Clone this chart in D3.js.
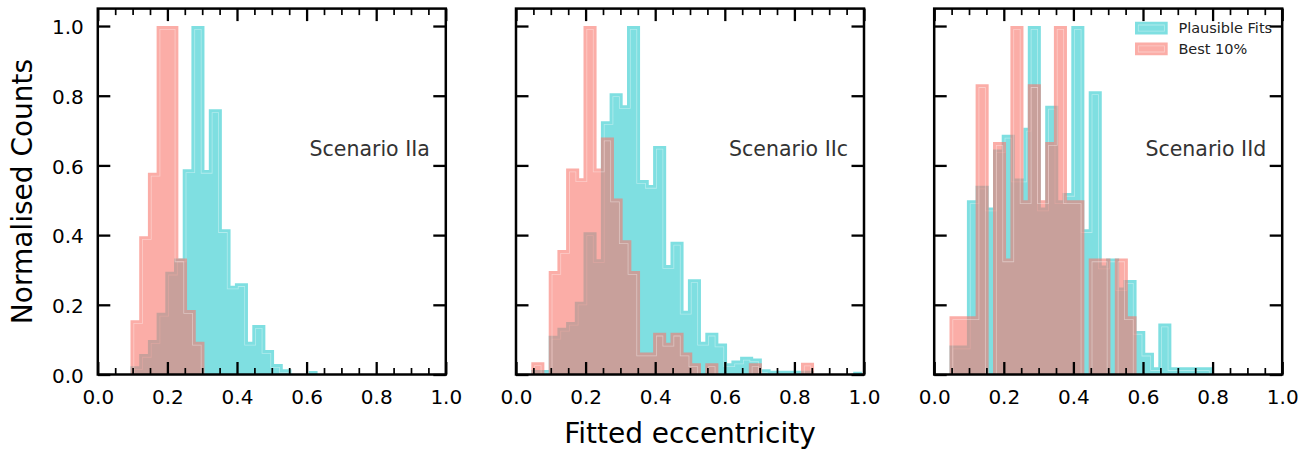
<!DOCTYPE html>
<html>
<head>
<meta charset="utf-8">
<script src="https://cdn.jsdelivr.net/npm/d3@7"></script>
<style>
  body { margin: 0; background: #fff; }
  text { font-family: "DejaVu Sans", sans-serif; }
</style>
</head>
<body>
<div id="my_dataviz"></div>
<script>

// labels and ticks
var scenarios = ["Scenario IIa", "Scenario IIc", "Scenario IId"];
var seriesNames = ["Plausible Fits", "Best 10%"];
var xMajorTicks = [0, 0.2, 0.4, 0.6, 0.8, 1.0];
var xMinorTicks = [0.05, 0.1, 0.15, 0.25, 0.3, 0.35, 0.45, 0.5, 0.55, 0.65, 0.7, 0.75, 0.85, 0.9, 0.95];
var yTicks = [0, 0.2, 0.4, 0.6, 0.8, 1.0];

// Scenario IIa  (bin edges in eccentricity, normalised counts per bin)
var plausibleEdgesA = [0.094, 0.119, 0.144, 0.169, 0.194, 0.219, 0.244, 0.269, 0.3065, 0.319, 0.3565,
  0.3815, 0.394, 0.4315, 0.444, 0.4815, 0.5065, 0.5315, 0.5565, 0.6065, 0.6315];
var plausibleA = [0.024, 0.059, 0.099, 0.177, 0.295, 0.333, 0.589, 1.0, 0.587, 0.761, 0.417, 0.255,
  0.262, 0.094, 0.142, 0.070, 0.030, 0.015, 0, 0.010];
var bestEdgesA = [0.094, 0.119, 0.144, 0.169, 0.2315, 0.2565, 0.2815, 0.3065];
var bestA = [0.156, 0.397, 0.579, 1.0, 0.333, 0.185, 0.094];

// Scenario IIc
var plausibleEdgesC = [0.044, 0.094, 0.119, 0.144, 0.169, 0.194, 0.2315, 0.244, 0.269, 0.3065, 0.319,
  0.3565, 0.3815, 0.394, 0.4315, 0.444, 0.4815, 0.494, 0.5315, 0.544, 0.5815, 0.6065, 0.619, 0.644,
  0.6815, 0.7065, 0.7315, 0.8565, 0.969, 0.994];
var plausibleC = [0.013, 0.111, 0.134, 0.151, 0.209, 0.408, 0.331, 0.727, 0.807, 0.773, 1.0, 0.558,
  0.544, 0.656, 0.314, 0.381, 0.183, 0.273, 0.094, 0.120, 0.089, 0.032, 0.040, 0.051, 0.046, 0.015,
  0.011, 0, 0.008];
var bestEdgesC = [0.044, 0.0815, 0.094, 0.119, 0.144, 0.1815, 0.194, 0.2315, 0.244, 0.2815, 0.3065,
  0.3315, 0.3565, 0.394, 0.4315, 0.444, 0.4815, 0.5065, 0.5315, 0.544, 0.5815, 0.669, 0.7065, 0.819, 0.8565];
var bestC = [0.035, 0, 0.297, 0.357, 0.591, 0.563, 1.0, 0.591, 0.680, 0.505, 0.385, 0.297, 0.063,
  0.120, 0.091, 0.120, 0.063, 0.032, 0, 0.032, 0, 0.032, 0, 0.034];

// Scenario IId
var plausibleEdgesD = [0.044, 0.094, 0.119, 0.1565, 0.169, 0.194, 0.2315, 0.2565, 0.269, 0.3065, 0.319,
  0.3565, 0.369, 0.394, 0.4315, 0.444, 0.4815, 0.494, 0.5315, 0.544, 0.5815, 0.6065, 0.6315, 0.644,
  0.6815, 0.80];
var plausibleD = [0.083, 0.5, 0.542, 0.479, 0.646, 0.688, 0.5625, 0.708, 1.0, 0.479, 0.771, 0.5,
  0.521, 1.0, 0.417, 0.8125, 0.3125, 0.333, 0.25, 0.271, 0.125, 0.0625, 0.021, 0.146, 0.021];
var bestEdgesD = [0.044, 0.119, 0.1565, 0.169, 0.2065, 0.219, 0.2565, 0.269, 0.3065, 0.319, 0.344,
  0.3815, 0.4315, 0.444, 0.5065, 0.519, 0.5565, 0.5815];
var bestD = [0.167, 0.833, 0, 0.667, 0.333, 1.0, 0.5, 0.833, 0.5, 0.667, 1.0, 0.5, 0, 0.333, 0, 0.333, 0.167];

var panels = [
  { name: scenarios[0], plausible: [plausibleEdgesA, plausibleA], best: [bestEdgesA, bestA] },
  { name: scenarios[1], plausible: [plausibleEdgesC, plausibleC], best: [bestEdgesC, bestC] },
  { name: scenarios[2], plausible: [plausibleEdgesD, plausibleD], best: [bestEdgesD, bestD] }
];

var cyan = "#00BFC4", salmon = "#F8766D";
var W = 1311, H = 452;
var panelLeft = [97.8, 516, 934.2];
var pw = 348, ph = 365.9, panelTop = 8.6;

var svg = d3.select("#my_dataviz")
  .append("svg")
  .attr("width", W)
  .attr("height", H);

var defs = svg.append("defs");

var x = d3.scaleLinear().domain([0, 1]).range([0, pw]);
var y = d3.scaleLinear().domain([0, 1.05]).range([ph, 0]);

var line = d3.line()
  .x(function(d) { return x(d[0]); })
  .y(function(d) { return y(d[1]); });

function stepPoints(edges, h) {
  var pts = [[edges[0], 0]];
  h.forEach(function(v, i) {
    pts.push([edges[i], v]);
    pts.push([edges[i + 1], v]);
  });
  pts.push([edges[edges.length - 1], 0]);
  return pts;
}

// filled shape with the faint light line just inside its outline
var uid = 0;
function drawFill(g, d, color, alpha) {
  uid++;
  g.append("path")
    .attr("d", d)
    .attr("fill", color)
    .attr("fill-opacity", alpha);

  defs.append("clipPath").attr("id", "clip" + uid)
    .append("path").attr("d", d);

  var m = defs.append("mask").attr("id", "mask" + uid)
    .attr("maskUnits", "userSpaceOnUse")
    .attr("x", -60).attr("y", -60)
    .attr("width", pw + 120).attr("height", ph + 120);
  m.append("path").attr("d", d)
    .attr("fill", "none").attr("stroke", "#fff")
    .attr("stroke-width", 7.4).attr("stroke-linejoin", "miter");
  m.append("path").attr("d", d)
    .attr("fill", "none").attr("stroke", "#000")
    .attr("stroke-width", 5.8).attr("stroke-linejoin", "miter");

  g.append("rect")
    .attr("x", -20).attr("y", -20)
    .attr("width", pw + 40).attr("height", ph + 40)
    .attr("fill", "#fff")
    .attr("fill-opacity", 0.4)
    .attr("clip-path", "url(#clip" + uid + ")")
    .attr("mask", "url(#mask" + uid + ")");
}

panels.forEach(function(p, i) {
  var g = svg.append("g")
    .attr("transform", "translate(" + panelLeft[i] + "," + panelTop + ")");

  drawFill(g, line(stepPoints(p.plausible[0], p.plausible[1])), cyan, 0.5);
  drawFill(g, line(stepPoints(p.best[0], p.best[1])), salmon, 0.6);

  // ticks, all pointing inwards
  var fmt = d3.format(".1f");
  var axes = [
    d3.axisBottom(x).tickValues(xMajorTicks).tickSize(-12.5).tickPadding(15).tickFormat(fmt),
    d3.axisBottom(x).tickValues(xMinorTicks).tickSize(-6.5).tickFormat(""),
    d3.axisTop(x).tickValues(xMajorTicks).tickSize(-12.5).tickFormat(""),
    d3.axisTop(x).tickValues(xMinorTicks).tickSize(-6.5).tickFormat(""),
    d3.axisLeft(y).tickValues(yTicks).tickSize(-12.5).tickPadding(14).tickFormat(i == 0 ? fmt : ""),
    d3.axisRight(y).tickValues(yTicks).tickSize(-12.5).tickFormat("")
  ];
  var shifts = [[0, ph], [0, ph], [0, 0], [0, 0], [0, 0], [pw, 0]];
  axes.forEach(function(ax, k) {
    var a = g.append("g")
      .attr("transform", "translate(" + shifts[k][0] + "," + shifts[k][1] + ")")
      .call(ax);
    a.select(".domain").remove();
    a.selectAll("line")
      .attr("stroke", "#000")
      .attr("stroke-width", (k == 1 || k == 3) ? 1.7 : 2.3);
    a.selectAll("text")
      .attr("font-family", "DejaVu Sans")
      .attr("font-size", 20)
      .attr("fill", "#000");
    if (k == 4) a.selectAll("text").attr("dy", "0.38em");
  });

  g.append("rect")
    .attr("width", pw)
    .attr("height", ph)
    .attr("fill", "none")
    .attr("stroke", "#000")
    .attr("stroke-width", 2.5);

  g.append("text")
    .attr("x", pw - 16)
    .attr("y", 147.2)
    .attr("text-anchor", "end")
    .attr("font-size", 20.5)
    .attr("fill", "#333")
    .text(p.name);

  if (i == 2) {
    var legendColors = [[cyan, 0.5], [salmon, 0.6]];
    seriesNames.forEach(function(s, j) {
      var ly = 13.1 + j * 20.8;
      var d = "M200.8," + ly + "h32.7v12.8h-32.7Z";
      drawFill(g, d, legendColors[j][0], legendColors[j][1]);
      g.append("text")
        .attr("x", 244.2)
        .attr("y", ly + 11.6)
        .attr("font-size", 14.5)
        .attr("fill", "#222")
        .text(s);
    });
  }
});

svg.append("text")
  .attr("x", 690)
  .attr("y", 443)
  .attr("text-anchor", "middle")
  .attr("font-size", 28)
  .attr("fill", "#000")
  .text("Fitted eccentricity");

svg.append("text")
  .attr("transform", "translate(31.5,191.5) rotate(-90)")
  .attr("text-anchor", "middle")
  .attr("font-size", 28)
  .attr("fill", "#000")
  .text("Normalised Counts");

</script>
</body>
</html>
